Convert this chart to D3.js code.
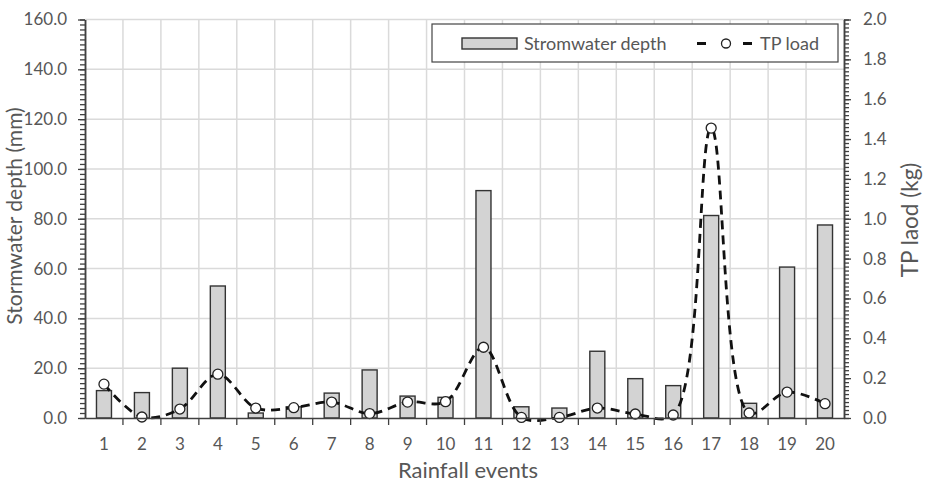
<!DOCTYPE html>
<html><head><meta charset="utf-8">
<script src="https://cdn.jsdelivr.net/npm/d3@7"></script>
<style>body{margin:0;background:#fff}svg{display:block}text{font-family:Lato,"Open Sans",sans-serif;fill:#575757}</style>
</head><body><svg id="c" width="927" height="483"></svg>
<script>
const categories = ["1","2","3","4","5","6","7","8","9","10","11","12","13","14","15","16","17","18","19","20"];
const depth = [11.0, 10.2, 20.0, 53.0, 2.0, 4.5, 10.0, 19.3, 8.8, 8.3, 91.3, 4.5, 4.0, 26.8, 15.8, 13.0, 81.3, 5.9, 60.6, 77.5];
const tpLoad = [0.17, 0.005, 0.045, 0.22, 0.05, 0.052, 0.08, 0.022, 0.08, 0.082, 0.355, 0.003, 0.003, 0.05, 0.02, 0.015, 1.455, 0.025, 0.13, 0.072];
const leftTicks = [0, 20, 40, 60, 80, 100, 120, 140, 160];
const rightTicks = [0, 0.2, 0.4, 0.6, 0.8, 1.0, 1.2, 1.4, 1.6, 1.8, 2.0];
const seriesNames = ["Stromwater depth", "TP load"];
const axisTitles = {left: "Stormwater depth (mm)", right: "TP laod (kg)", bottom: "Rainfall events"};

const svg = d3.select("#c");
const L = 85, R = 844, T = 19.5, B = 418;
const x = d3.scaleBand().domain(categories).range([L, R]).padding(0);
const yL = d3.scaleLinear().domain([0, 160]).range([B, T]);
const yR = d3.scaleLinear().domain([0, 2]).range([B, T]);
const grid = "#dadada", axisC = "#404040";

// gridlines
const g = svg.append("g");
g.selectAll("line.h").data(leftTicks.slice(1)).join("line")
  .attr("x1", L).attr("x2", R).attr("y1", d => yL(d)).attr("y2", d => yL(d))
  .attr("stroke", grid).attr("stroke-width", 1.5);
g.selectAll("line.v").data(categories.slice(1)).join("line")
  .attr("x1", d => x(d)).attr("x2", d => x(d)).attr("y1", T).attr("y2", B)
  .attr("stroke", grid).attr("stroke-width", 1.5);

// bars
const bw = 15;
svg.append("g").selectAll("rect").data(depth).join("rect")
  .attr("x", (d, i) => x(categories[i]) + x.bandwidth() / 2 - bw / 2)
  .attr("y", d => yL(d)).attr("width", bw).attr("height", d => B - yL(d))
  .attr("fill", "#d3d3d3").attr("stroke", "#333").attr("stroke-width", 1.4);

// line
const line = d3.line().x((d, i) => x(categories[i]) + x.bandwidth() / 2).y(d => yR(d))
  .curve(d3.curveCatmullRom.alpha(0.5));
svg.append("path").datum(tpLoad).attr("d", line).attr("fill", "none")
  .attr("stroke", "#111").attr("stroke-width", 2.8).attr("stroke-dasharray", "9,6");
svg.append("g").selectAll("circle").data(tpLoad).join("circle")
  .attr("cx", (d, i) => x(categories[i]) + x.bandwidth() / 2).attr("cy", d => yR(d))
  .attr("r", 5).attr("fill", "#fff").attr("stroke", "#222").attr("stroke-width", 1.3);

// axes
function styleAxis(sel) {
  sel.selectAll(".domain").attr("stroke", axisC).attr("stroke-width", 1.5);
  sel.selectAll(".tick line").attr("stroke", axisC).attr("stroke-width", 1.3);
  sel.selectAll("text").attr("fill", "#575757").style("font-size", "17px").style("font-family", "Lato");
}
const leftMinor = d3.range(0, 161, 2);
svg.append("g").attr("transform", `translate(${L},0)`)
  .call(d3.axisLeft(yL).tickValues(leftMinor).tickSize(5).tickFormat("").tickSizeOuter(0))
  .call(styleAxis);
svg.append("g").attr("transform", `translate(${L},0)`)
  .call(d3.axisLeft(yL).tickValues(leftTicks).tickSize(7).tickPadding(11).tickFormat(d3.format(".1f")).tickSizeOuter(0))
  .call(styleAxis);
const rightMinor = d3.range(0, 101, 1).map(v => v / 50);
svg.append("g").attr("transform", `translate(${R},0)`)
  .call(d3.axisRight(yR).tickValues(rightMinor).tickSize(5).tickFormat("").tickSizeOuter(0))
  .call(styleAxis);
svg.append("g").attr("transform", `translate(${R},0)`)
  .call(d3.axisRight(yR).tickValues(rightTicks).tickSize(7).tickPadding(12).tickFormat(d3.format(".1f")).tickSizeOuter(0))
  .call(styleAxis);
const xb = svg.append("g").attr("transform", `translate(0,${B})`)
  .call(d3.axisBottom(x).tickSize(0).tickPadding(20).tickSizeOuter(0))
  .call(styleAxis);
xb.selectAll(".tick line").remove();
svg.append("g").selectAll("line").data(categories.slice(1)).join("line")
  .attr("x1", d => x(d)).attr("x2", d => x(d)).attr("y1", B).attr("y2", B + 7)
  .attr("stroke", axisC).attr("stroke-width", 1.3);

// titles
svg.append("text").attr("x", 468).attr("y", 478).attr("text-anchor", "middle")
  .style("font-size", "22px").text(axisTitles.bottom);
svg.append("text").attr("transform", "translate(21.5,216) rotate(-90)").attr("text-anchor", "middle")
  .style("font-size", "21px").text(axisTitles.left);
svg.append("text").attr("transform", "translate(918,220) rotate(-90)").attr("text-anchor", "middle")
  .style("font-size", "22.5px").text(axisTitles.right);

// legend
const lg = svg.append("g");
lg.append("rect").attr("x", 432).attr("y", 24).attr("width", 406).attr("height", 38)
  .attr("fill", "#fff").attr("stroke", "#444").attr("stroke-width", 1.2);
lg.append("rect").attr("x", 462).attr("y", 38).attr("width", 55).attr("height", 11)
  .attr("fill", "#d3d3d3").attr("stroke", "#333").attr("stroke-width", 1.4);
lg.append("text").attr("x", 524).attr("y", 49.5).style("font-size", "18px").text(seriesNames[0]);
lg.append("line").attr("x1", 697).attr("x2", 753).attr("y1", 43.5).attr("y2", 43.5)
  .attr("stroke", "#111").attr("stroke-width", 2.8).attr("stroke-dasharray", "9,37");
lg.append("circle").attr("cx", 726).attr("cy", 43.5).attr("r", 4.5).attr("fill", "#fff").attr("stroke", "#222").attr("stroke-width", 1.3);
lg.append("text").attr("x", 760).attr("y", 49.5).style("font-size", "18px").text(seriesNames[1]);
</script></body></html>
